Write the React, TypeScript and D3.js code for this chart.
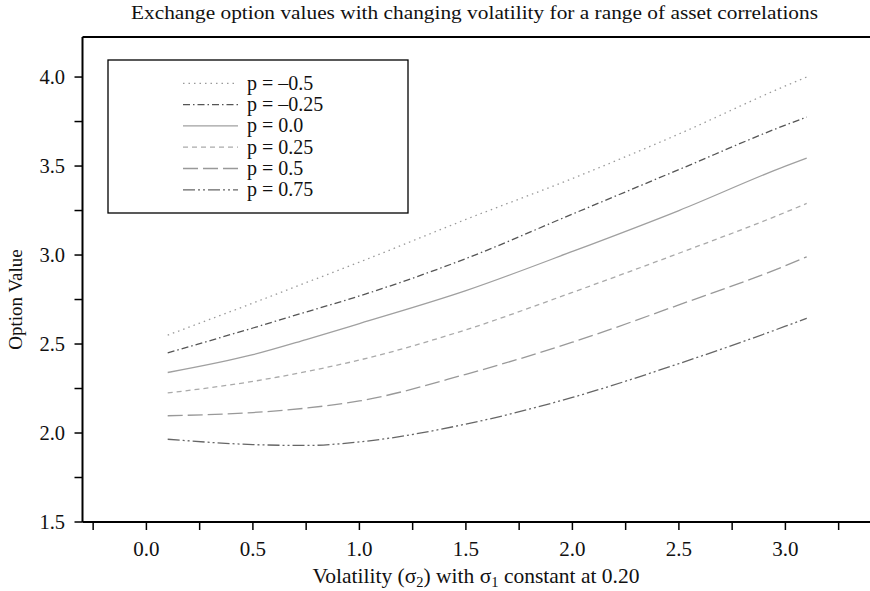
import React from "react";
import * as d3 from "d3";

const titleText = "Exchange option values with changing volatility for a range of asset correlations";
const yAxisTitle = "Option Value";

const volatility = [0.1, 0.5, 0.75, 1.0, 1.5, 2.0, 2.5, 3.0, 3.1];
const seriesLabels = ["p = \u20130.5", "p = \u20130.25", "p = 0.0", "p = 0.25", "p = 0.5", "p = 0.75"];
const pNeg050 = [2.55, 2.73, 2.845, 2.96, 3.2, 3.43, 3.68, 3.95, 4.0];
const pNeg025 = [2.45, 2.59, 2.68, 2.77, 2.98, 3.23, 3.48, 3.73, 3.775];
const pZero = [2.34, 2.44, 2.525, 2.615, 2.8, 3.02, 3.25, 3.5, 3.545];
const pPos025 = [2.225, 2.29, 2.345, 2.41, 2.58, 2.79, 3.01, 3.24, 3.29];
const pPos050 = [2.097, 2.115, 2.14, 2.18, 2.33, 2.51, 2.72, 2.94, 2.99];
const pPos075 = [1.965, 1.935, 1.93, 1.95, 2.05, 2.2, 2.39, 2.6, 2.645];

const xMajorTicks = [0, 0.5, 1.0, 1.5, 2.0, 2.5, 3.0];
const xMinorTicks = [-0.25, 0.25, 0.75, 1.25, 1.75, 2.25, 2.75, 3.25];
const yMajorTicks = [1.5, 2.0, 2.5, 3.0, 3.5, 4.0];
const yMinorTicks = [1.75, 2.25, 2.75, 3.25, 3.75];

const styles = [
  { stroke: "#9a9a9a", dash: "1.5,4", width: 1.3 },
  { stroke: "#555", dash: "7,3,1.5,3", width: 1.3 },
  { stroke: "#a0a0a0", dash: "", width: 1.3 },
  { stroke: "#aaa", dash: "5,4", width: 1.3 },
  { stroke: "#999", dash: "15,5", width: 1.3 },
  { stroke: "#666", dash: "12,3,2,3,2,3", width: 1.3 },
];

const FONT = "'Liberation Serif', 'Times New Roman', serif";

export default function App() {
  const W = 870, H = 591;
  const left = 82.5, top = 37, bottom = 522;
  const x = d3.scaleLinear().domain([-0.3, 3.4]).range([left, left + 3.7 * 213]);
  const y = d3.scaleLinear().domain([1.5, 4.225]).range([bottom, top]);
  const allSeries = [pNeg050, pNeg025, pZero, pPos025, pPos050, pPos075];
  const line = d3
    .line<number>()
    .x((_, i) => x(volatility[i]))
    .y((d) => y(d))
    .curve(d3.curveMonotoneX);

  const legX = 108, legY = 60, legW = 300, legH = 153;

  return (
    <svg width={W} height={H} style={{ position: "absolute", left: 0, top: 0, background: "#fff" }} fontFamily={FONT}>
      <rect x={0} y={0} width={W} height={H} fill="#fff" />
      <text x={474.5} y={19} fontSize={18.5} textAnchor="middle" fill="#111" textLength={687} lengthAdjust="spacingAndGlyphs">{titleText}</text>

      {allSeries.map((s, i) => (
        <path key={i} d={line(s) || ""} fill="none" stroke={styles[i].stroke} strokeWidth={styles[i].width} strokeDasharray={styles[i].dash} />
      ))}

      {/* frame */}
      <line x1={left} x2={W + 5} y1={top} y2={top} stroke="#000" strokeWidth={2} />
      <line x1={left} x2={left} y1={top} y2={bottom} stroke="#000" strokeWidth={2} />
      <line x1={left} x2={W + 5} y1={bottom} y2={bottom} stroke="#000" strokeWidth={2} />

      {xMajorTicks.concat(xMinorTicks).map((t) => (
        <line key={"xt" + t} x1={x(t)} x2={x(t)} y1={bottom} y2={bottom + 8} stroke="#000" strokeWidth={1.5} />
      ))}
      {xMajorTicks.map((t) => (
        <text key={"xl" + t} x={x(t)} y={556} fontSize={21} textAnchor="middle" fill="#111">{t.toFixed(1)}</text>
      ))}
      {yMajorTicks.concat(yMinorTicks).map((t) => (
        <line key={"yt" + t} x1={left - 8} x2={left} y1={y(t)} y2={y(t)} stroke="#000" strokeWidth={1.5} />
      ))}
      {yMajorTicks.map((t) => (
        <text key={"yl" + t} x={65} y={y(t) + 7} fontSize={20.5} textAnchor="end" fill="#111">{t.toFixed(1)}</text>
      ))}

      <text x={476} y={583} fontSize={21.5} textAnchor="middle" fill="#111">
        Volatility (σ<tspan fontSize={14.5} dy={4}>2</tspan><tspan dy={-4}>) with σ</tspan><tspan fontSize={14.5} dy={4}>1</tspan><tspan dy={-4}> constant at 0.20</tspan>
      </text>
      <text transform={`translate(22,${(top + bottom) / 2 + 20}) rotate(-90)`} fontSize={19} textAnchor="middle" fill="#111">{yAxisTitle}</text>

      {/* legend */}
      <rect x={legX} y={legY} width={legW} height={legH} fill="#fff" stroke="#000" strokeWidth={1.3} />
      {seriesLabels.map((lab, i) => {
        const cy = 83.3 + i * 21.3;
        return (
          <g key={lab}>
            <line x1={183} x2={238} y1={cy} y2={cy} stroke={styles[i].stroke} strokeWidth={styles[i].width} strokeDasharray={styles[i].dash} />
            <text x={247} y={cy + 6.5} fontSize={20} fill="#111">{lab}</text>
          </g>
        );
      })}
    </svg>
  );
}
